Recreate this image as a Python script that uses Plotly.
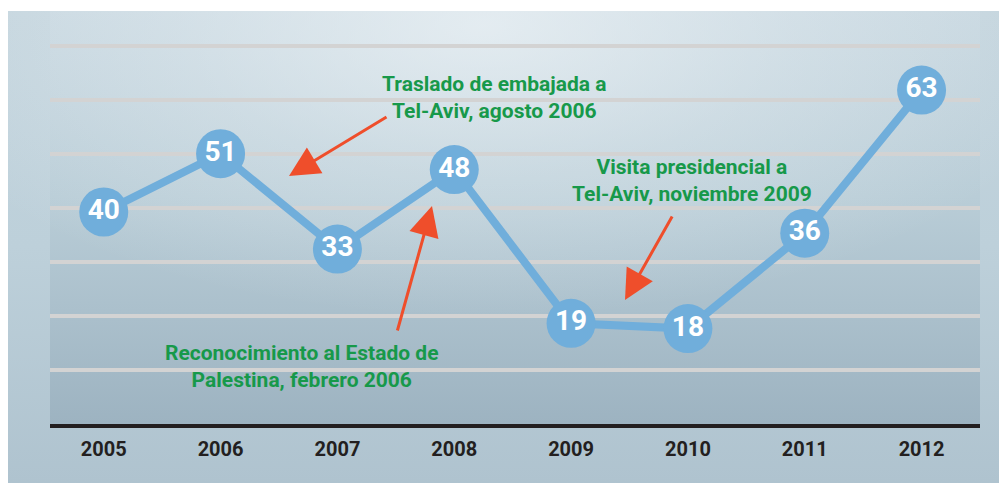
import base64
import plotly.graph_objects as go

years = ["2005", "2006", "2007", "2008", "2009", "2010", "2011", "2012"]
values = [40, 51, 33, 48, 19, 18, 36, 63]

note_embajada = "Traslado de embajada a<br>Tel-Aviv, agosto 2006"
note_visita = "Visita presidencial a<br>Tel-Aviv, noviembre 2009"
note_palestina = "Reconocimiento al Estado de<br>Palestina, febrero 2006"

W, H = 999, 485
L, R, T, B = 50, 980, 11, 424  # plot area in pixels

def px(x):
    return (x - L) / (R - L)

def py(y):
    return (B - y) / (B - T)

FONT = "Roboto, Liberation Sans, sans-serif"
LINE = "#70aedb"
GREEN = "#17994a"
RED = "#ef4e2b"

# background panel drawn as an SVG image with smooth gradients
svg = f"""<svg xmlns="http://www.w3.org/2000/svg" width="{W}" height="{H}" viewBox="0 0 {W} {H}">
<defs>
<linearGradient id="o" x1="0" y1="0" x2="0" y2="1">
<stop offset="0" stop-color="#c3d4dd"/><stop offset="0.5" stop-color="#bdd0da"/><stop offset="1" stop-color="#afc3cf"/>
</linearGradient>
<linearGradient id="i" x1="0" y1="0" x2="0" y2="1">
<stop offset="0" stop-color="#c7d7e0"/><stop offset="0.45" stop-color="#b9cdd7"/><stop offset="1" stop-color="#9db3c1"/>
</linearGradient>
<radialGradient id="h" cx="0.48" cy="0.03" r="0.62">
<stop offset="0" stop-color="#f0f5f8" stop-opacity="0.7"/><stop offset="0.5" stop-color="#f0f5f8" stop-opacity="0.3"/><stop offset="1" stop-color="#f0f5f8" stop-opacity="0"/>
</radialGradient>
</defs>
<rect x="8" y="11" width="991" height="472" fill="url(#o)"/>
<rect x="{L}" y="{T}" width="{R - L}" height="{B - T}" fill="url(#i)"/>
<rect x="8" y="11" width="991" height="472" fill="url(#h)"/>
</svg>"""
bg_src = "data:image/svg+xml;base64," + base64.b64encode(svg.encode()).decode()

fig = go.Figure()
fig.add_trace(go.Scatter(
    x=years, y=values, mode="lines+markers+text",
    line=dict(color=LINE, width=8),
    marker=dict(size=49, color=LINE, line=dict(width=0)),
    text=[str(v) for v in values], textposition="middle center",
    textfont=dict(family=FONT, size=28, color="white", weight="bold"),
    cliponaxis=False, hoverinfo="skip", showlegend=False,
))

annotations = []
for text, x, y in [(note_embajada, 494, 98), (note_visita, 692, 180), (note_palestina, 302, 366)]:
    annotations.append(dict(text="<b>%s</b>" % text, xref="paper", yref="paper",
                            x=px(x), y=py(y), xanchor="center", yanchor="middle",
                            showarrow=False, align="center",
                            font=dict(family=FONT, size=21, color=GREEN)))
for (hx, hy, tx, ty) in [(289, 176, 388, 116), (432, 206, 397, 332), (625, 300, 673, 215)]:
    annotations.append(dict(text="", xref="paper", yref="paper", x=px(hx), y=py(hy),
                            ax=tx - hx, ay=ty - hy, showarrow=True, arrowhead=2,
                            arrowsize=2, arrowwidth=3, arrowcolor=RED, standoff=0))

scale = 5.3  # px per unit
fig.update_layout(
    width=W, height=H,
    margin=dict(l=L, r=W - R, t=T, b=H - B),
    paper_bgcolor="white", plot_bgcolor="rgba(0,0,0,0)",
    images=[dict(source=bg_src, xref="paper", yref="paper", x=px(0), y=py(0),
                 sizex=W / (R - L), sizey=H / (B - T), xanchor="left", yanchor="top",
                 sizing="stretch", layer="below")],
    annotations=annotations,
    xaxis=dict(type="category", range=[-0.46, 7.5], showgrid=False, zeroline=False,
               showline=True, linewidth=4, linecolor="#231f20",
               ticks="outside", ticklen=4, tickcolor="rgba(0,0,0,0)",
               tickfont=dict(family=FONT, size=20, color="#231f20", weight="bold")),
    yaxis=dict(range=[0, (B - T) / scale], showticklabels=False, zeroline=False,
               showgrid=True, gridcolor="#d3d3d3", gridwidth=4,
               tick0=0, dtick=54 / scale),
)

fig.write_html("out.html", config={"displayModeBar": False},
               post_script="document.body.style.margin='0';")
